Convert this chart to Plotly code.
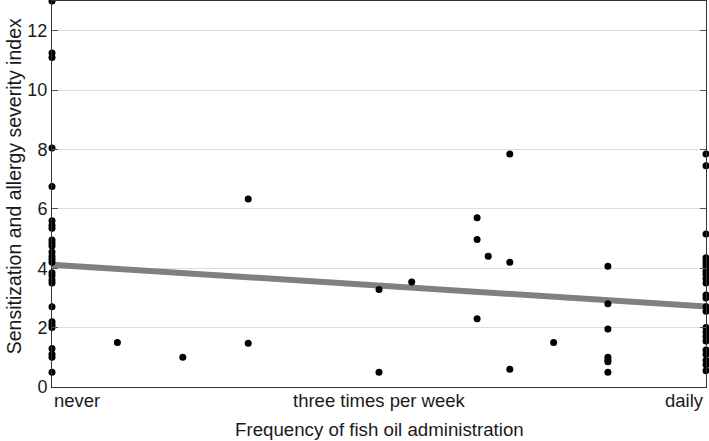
import plotly.graph_objects as go

# Frequency scale: 0 = never, 0.5 = three times per week, 1 = daily
never_y = [13.0, 11.25, 11.1, 8.05, 6.75, 5.6, 5.45, 5.35, 4.95, 4.85, 4.75,
           4.55, 4.4, 4.3, 4.2, 3.85, 3.75, 3.6, 3.5, 2.7, 2.2, 2.1, 2.0,
           1.3, 1.1, 1.0, 0.5]
daily_y = [7.85, 7.45, 5.15, 4.35, 4.25, 4.15, 4.05, 3.9, 3.8, 3.65, 3.5,
           3.1, 3.0, 2.7, 2.55, 2.0, 1.85, 1.7, 1.55, 1.25, 1.1, 0.9, 0.75, 0.55]
mid_x = [0.1, 0.2, 0.3, 0.3, 0.5, 0.5, 0.55, 0.65, 0.65, 0.65, 0.667, 0.7,
         0.7, 0.7, 0.767, 0.85, 0.85, 0.85, 0.85, 0.85, 0.85, 0.85]
mid_y = [1.5, 1.0, 6.33, 1.47, 3.28, 0.5, 3.54, 5.7, 4.97, 2.3, 4.4, 7.85,
         4.2, 0.6, 1.5, 4.07, 2.8, 1.95, 1.0, 0.92, 0.85, 0.5]

fit_x = [0.0, 1.0]
fit_y = [4.12, 2.71]

tick_vals = [0, 0.5, 1]
tick_text = ["never", "three times per week", "daily"]
y_ticks = [0, 2, 4, 6, 8, 10, 12]

xs = [0.0] * len(never_y) + mid_x + [1.0] * len(daily_y)
ys = never_y + mid_y + daily_y

FONT = "Liberation Sans, Arial, Helvetica, sans-serif"
TXT = "#1a1a1a"

fig = go.Figure()
fig.add_trace(go.Scatter(x=fit_x, y=fit_y, mode="lines",
                         line=dict(color="#808080", width=6),
                         hoverinfo="skip", showlegend=False, cliponaxis=False))
fig.add_trace(go.Scatter(x=xs, y=ys, mode="markers",
                         marker=dict(color="black", size=7),
                         showlegend=False, cliponaxis=False))

fig.update_xaxes(range=[0, 1], showticklabels=False, ticks="",
                 showgrid=False, zeroline=False,
                 showline=True, linecolor="#333333", linewidth=1, mirror=True)
fig.update_yaxes(range=[0, 13], tickvals=y_ticks, ticks="inside", ticklen=6,
                 tickcolor="#555555", mirror="ticks",
                 showline=True, linecolor="#333333", linewidth=1,
                 showgrid=True, gridcolor="#dcdcdc", gridwidth=1,
                 zeroline=False, tickfont=dict(size=18, color=TXT, family=FONT))

anchors = ["left", "center", "right"]
for v, t, a in zip(tick_vals, tick_text, anchors):
    fig.add_annotation(x=v, y=0, xref="x", yref="paper", text=t,
                       showarrow=False, xanchor=a, yanchor="top", yshift=-1,
                       font=dict(size=18.5, color=TXT, family=FONT))

fig.add_annotation(x=0.5, y=0, xref="paper", yref="paper",
                   text="Frequency of fish oil administration",
                   showarrow=False, xanchor="center", yanchor="middle", yshift=-42,
                   font=dict(size=18.7, color=TXT, family=FONT))
fig.add_annotation(x=0, y=0.52, xref="paper", yref="paper",
                   text="Sensitization and allergy severity index",
                   textangle=-90, showarrow=False, xanchor="center",
                   yanchor="middle", xshift=-38,
                   font=dict(size=19.5, color=TXT, family=FONT))

fig.update_layout(width=709, height=441,
                  margin=dict(l=52, r=3, t=1, b=54),
                  paper_bgcolor="white", plot_bgcolor="white",
                  font=dict(family=FONT))

fig.write_html("out.html", config={"displayModeBar": False},
               post_script="document.body.style.margin='0';document.body.style.overflow='hidden';")
